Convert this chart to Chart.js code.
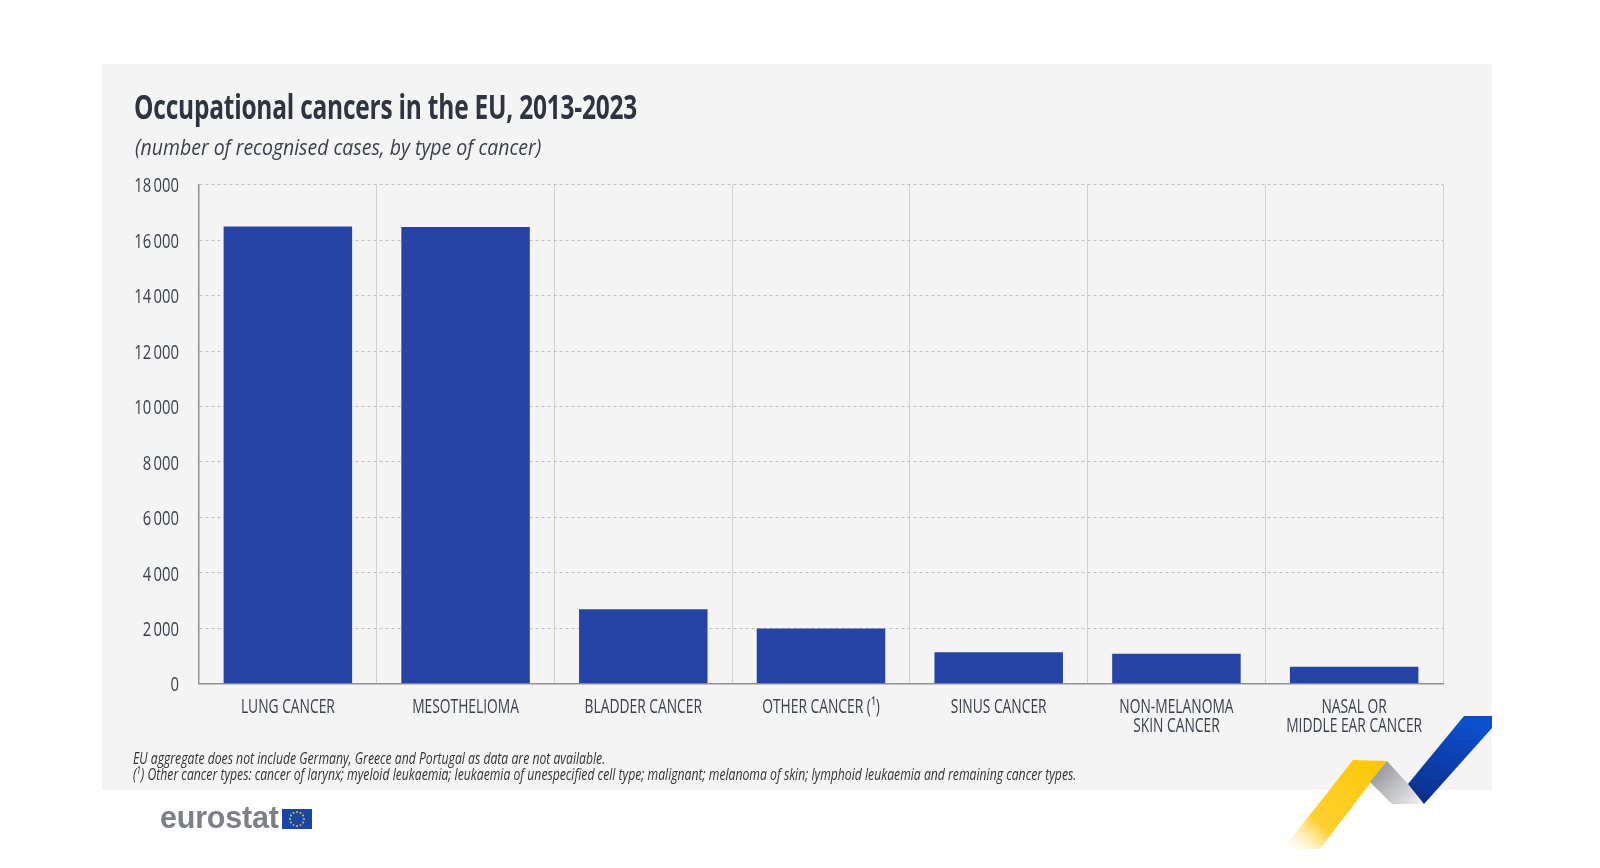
<!DOCTYPE html>
<html>
<head>
<meta charset="utf-8">
<script src="https://cdn.jsdelivr.net/npm/chart.js@4/dist/chart.umd.min.js"></script>
<style>
    html, body {margin: 0; background: #fff;}
    #wrap {position: relative; width: 1600px; height: 868px; overflow: hidden; font-family: "Open Sans", sans-serif;}
    canvas {position: absolute; left: 0; top: 0;}
    .txt {position: absolute; white-space: nowrap; color: #2f3440; transform-origin: left top;}
    #title {left: 134px; top: 83px; font-size: 34px; font-weight: bold; transform: scaleX(.72); letter-spacing: -.3px;}
    #subtitle {left: 135px; top: 133px; font-size: 21px; font-style: italic; transform: scaleX(.927); color: #3a3f4a;}
    .note {left: 133px; font-size: 15.5px; font-style: italic; transform: scaleX(.787); color: #333;}
    #logo {left: 160px; top: 800px; font-size: 30.5px; font-weight: bold; font-family: "Liberation Sans"; color: #7d8087; letter-spacing: -.2px;}
    sup {font-size: 10px; line-height: 0;}
</style>
</head>
<body>
<div id="wrap">
    <canvas id="chart" width="1600" height="868"></canvas>
    <div class="txt" id="title"></div>
    <div class="txt" id="subtitle"></div>
    <div class="txt note" id="note1" style="top: 747px"></div>
    <div class="txt note" id="note2" style="top: 763px"></div>
    <div class="txt" id="logo"></div>
</div>
<script>
var titleText = "Occupational cancers in the EU, 2013-2023";
var subtitleText = "(number of recognised cases, by type of cancer)";
var note1Text = "EU aggregate does not include Germany, Greece and Portugal as data are not available.";
var note2Text = "(<sup>1</sup>) Other cancer types: cancer of larynx; myeloid leukaemia; leukaemia of unespecified cell type; malignant; melanoma of skin; lymphoid leukaemia and remaining cancer types.";

var categories = ["LUNG CANCER", "MESOTHELIOMA", "BLADDER CANCER", "OTHER CANCER (\u00B9)", "SINUS CANCER", ["NON-MELANOMA", "SKIN CANCER"], ["NASAL OR", "MIDDLE EAR CANCER"]];
var cases = [16490, 16470, 2690, 1990, 1130, 1080, 610];
var yTicks = [0, 2000, 4000, 6000, 8000, 10000, 12000, 14000, 16000, 18000];

document.getElementById("title").textContent = titleText;
document.getElementById("subtitle").textContent = subtitleText;
document.getElementById("note1").textContent = note1Text;
document.getElementById("note2").innerHTML = note2Text;
document.getElementById("logo").textContent = "eurostat";

function poly(ctx, pts, fill) {
    ctx.beginPath();
    ctx.moveTo(pts[0][0], pts[0][1]);
    for (var i = 1; i < pts.length; i++) ctx.lineTo(pts[i][0], pts[i][1]);
    ctx.closePath();
    ctx.fillStyle = fill;
    ctx.fill();
}

// no condensed font is installed, so squeeze the text sideways
function narrowText(ctx, text, x, y, squeeze, align) {
    ctx.save();
    ctx.translate(x, y);
    ctx.scale(squeeze, 1);
    ctx.textAlign = align;
    ctx.textBaseline = "middle";
    ctx.fillText(text, 0, 0);
    ctx.restore();
}

// grey panel behind the chart
var panelPlugin = {
    id: "panel",
    beforeDraw: function (chart) {
        var ctx = chart.ctx;
        ctx.save();
        ctx.fillStyle = "#f4f4f5";
        ctx.fillRect(102, 64, 1390, 726);
        ctx.restore();
    }
};

// tick labels, placed from the chart's own scales
var labelPlugin = {
    id: "narrowLabels",
    afterDraw: function (chart) {
        var ctx = chart.ctx;
        var xs = chart.scales.x;
        var ys = chart.scales.y;
        ctx.save();
        ctx.font = "20px 'Open Sans'";
        ctx.fillStyle = "#3a3f4a";
        ys.ticks.forEach(function (t, i) {
            narrowText(ctx, t.label, ys.left + ys.width - 20, ys.getPixelForTick(i) + 2, .74, "right");
        });
        xs.ticks.forEach(function (t, i) {
            var lines = [].concat(t.label);
            lines.forEach(function (line, n) {
                narrowText(ctx, line, xs.getPixelForTick(i), xs.top + 24 + n * 18.4, .69, "center");
            });
        });
        ctx.restore();
    }
};

// eurostat flag and the ribbon in the bottom right corner
var brandPlugin = {
    id: "brand",
    afterDraw: function (chart) {
        var ctx = chart.ctx;
        ctx.save();
        ctx.fillStyle = "#1a47a3";
        ctx.fillRect(282, 809, 30, 20);
        ctx.fillStyle = "#f5cf2e";
        for (var i = 0; i < 12; i++) {
            var a = i * Math.PI / 6;
            ctx.beginPath();
            ctx.arc(297 + Math.cos(a) * 7, 819 + Math.sin(a) * 7, .9, 0, 7);
            ctx.fill();
        }

        var yellow = ctx.createLinearGradient(1370, 762, 1288, 853);
        yellow.addColorStop(0, "#fdc80a");
        yellow.addColorStop(.65, "#fdd030");
        yellow.addColorStop(1, "rgba(255,245,210,0)");
        poly(ctx, [[1353, 760], [1387, 761], [1320, 849], [1283, 849]], yellow);

        var grey = ctx.createLinearGradient(1380, 770, 1420, 805);
        grey.addColorStop(0, "#9b9da0");
        grey.addColorStop(1, "#f0f0f1");
        poly(ctx, [[1387, 761], [1370, 782], [1392, 804], [1424, 804], [1408, 784]], grey);

        var blue = ctx.createLinearGradient(1455, 720, 1425, 800);
        blue.addColorStop(0, "#0d4ecb");
        blue.addColorStop(1, "#0c2f8f");
        poly(ctx, [[1464, 716], [1492, 716], [1492, 728], [1424, 804], [1408, 784]], blue);
        ctx.restore();
    }
};

new Chart("chart", {
    type: "bar",
    data: {
        labels: categories,
        datasets: [{
            data: cases,
            backgroundColor: "#2743a5",
            barPercentage: .723,
            categoryPercentage: 1
        }]
    },
    options: {
        responsive: false,
        animation: false,
        layout: {padding: {top: 184.7, right: 157, bottom: 102.3, left: 0}},
        plugins: {legend: {display: false}, tooltip: {enabled: false}},
        scales: {
            x: {
                afterFit: function (scale) {scale.height = 82;},
                border: {display: true, color: "#8f9194", width: 1.5},
                grid: {color: "#cfcfd1", lineWidth: 1, tickLength: 0, drawTicks: false},
                ticks: {display: false, autoSkip: false}
            },
            y: {
                min: 0,
                max: 18000,
                afterFit: function (scale) {scale.width = 199;},
                afterBuildTicks: function (scale) {
                    scale.ticks = yTicks.map(function (v) {return {value: v};});
                },
                border: {display: true, color: "#8f9194", width: 1.5, dash: [3, 3]},
                grid: {color: "#bdbdc0", lineWidth: 1, drawTicks: false},
                ticks: {
                    display: false,
                    callback: function (v) {return String(v).replace(/\B(?=(\d{3})+$)/g, "\u2009");}
                }
            }
        }
    },
    plugins: [panelPlugin, labelPlugin, brandPlugin]
});
</script>
</body>
</html>
